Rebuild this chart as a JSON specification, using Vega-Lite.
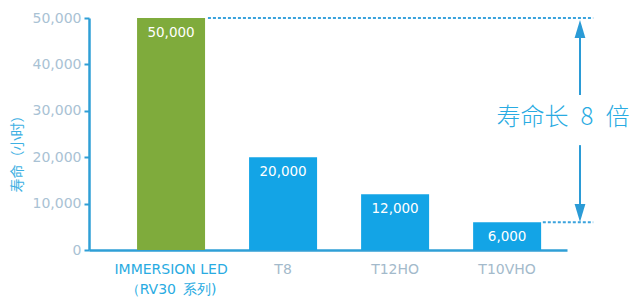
{
  "$schema": "https://vega.github.io/schema/vega-lite/v6.json",
  "autosize": {"type": "none"},
  "padding": {"left": 89, "top": 18, "right": 65, "bottom": 49},
  "width": 478,
  "height": 232,
  "background": "white",
  "config": {"view": {"stroke": null}, "font": "DejaVu Sans"},
  "datasets": {
    "bars": [
      {"name": "IMMERSION LED", "hours": 50000},
      {"name": "T8", "hours": 20000},
      {"name": "T12HO", "hours": 12000},
      {"name": "T10VHO", "hours": 6000}
    ],
    "ratio": [
      {"high": 50000, "low": 6000, "label": "寿命长\u20028\u2002倍"}
    ]
  },
  "layer": [
    {
      "data": {"name": "bars"},
      "encoding": {
        "x": {
          "field": "name", "type": "nominal", "sort": null,
          "scale": {"paddingInner": 0.393, "paddingOuter": 0.33, "align": 0.65},
          "axis": {
            "title": null, "labelAngle": 0, "ticks": false,
            "domainColor": "#2f9fd6", "domainWidth": 2.5,
            "labelPadding": 12, "labelFontSize": 14, "labelLineHeight": 20,
            "labelFont": "DejaVu Sans",
            "labelExpr": "datum.value == 'IMMERSION LED' ? ['IMMERSION LED', '（RV30\u2002系列)'] : datum.label",
            "labelColor": {"condition": {"test": "datum.value == 'IMMERSION LED'", "value": "#29abe2"}, "value": "#a3bacb"}
          }
        },
        "y": {
          "field": "hours", "type": "quantitative",
          "scale": {"domain": [0, 50000], "nice": false},
          "axis": {
            "title": "寿命（小时）", "titleColor": "#3db0e3", "titleFont": "Noto Sans CJK SC",
            "titleFontSize": 14, "titleFontWeight": "normal", "titleX": -72, "titleY": 132,
            "titleBaseline": "middle", "titleAngle": -90,
            "values": [0, 10000, 20000, 30000, 40000, 50000],
            "labelExpr": "format(datum.value, ',')",
            "grid": false, "domainColor": "#2f9fd6", "domainWidth": 2.5,
            "tickColor": "#2f9fd6", "tickSize": 5, "tickWidth": 2,
            "labelColor": "#a9c2d4", "labelFontSize": 14, "labelPadding": 3
          }
        }
      },
      "layer": [
        {
          "mark": {"type": "bar"},
          "encoding": {
            "color": {
              "field": "name", "type": "nominal", "legend": null,
              "scale": {"domain": ["IMMERSION LED", "T8", "T12HO", "T10VHO"], "range": ["#7fab3c", "#13a4e6", "#13a4e6", "#13a4e6"]}
            }
          }
        },
        {
          "mark": {"type": "text", "baseline": "top", "dy": 8, "color": "white", "fontSize": 13.5},
          "encoding": {"text": {"field": "hours", "type": "quantitative", "format": ","}}
        }
      ]
    },
    {
      "data": {"name": "ratio"},
      "layer": [
        {
          "mark": {"type": "rule", "color": "#3aa3dd", "strokeWidth": 2, "strokeDash": [3, 2]},
          "encoding": {
            "x": {"datum": 0.33, "type": "quantitative", "scale": {"domain": [-0.732, 3.536], "nice": false, "zero": false}, "axis": null},
            "x2": {"datum": 3.77},
            "y": {"field": "high", "type": "quantitative"}
          }
        },
        {
          "mark": {"type": "rule", "color": "#3aa3dd", "strokeWidth": 2, "strokeDash": [3, 2]},
          "encoding": {
            "x": {"datum": 3.32, "type": "quantitative"},
            "x2": {"datum": 3.77},
            "y": {"field": "low", "type": "quantitative"}
          }
        },
        {
          "mark": {"type": "rule", "color": "#2b9bd6", "strokeWidth": 2},
          "encoding": {
            "x": {"datum": 3.652, "type": "quantitative"},
            "y": {"datum": 47000, "type": "quantitative"},
            "y2": {"datum": 33400}
          }
        },
        {
          "mark": {"type": "rule", "color": "#2b9bd6", "strokeWidth": 2},
          "encoding": {
            "x": {"datum": 3.652, "type": "quantitative"},
            "y": {"datum": 22600, "type": "quantitative"},
            "y2": {"datum": 8600}
          }
        },
        {
          "mark": {"type": "point", "filled": true, "color": "#2b9bd6", "opacity": 1, "size": 324, "shape": "M0,-1L0.6,1L-0.6,1Z"},
          "encoding": {
            "x": {"datum": 3.652, "type": "quantitative"},
            "y": {"datum": 47629, "type": "quantitative"}
          }
        },
        {
          "mark": {"type": "point", "filled": true, "color": "#2b9bd6", "opacity": 1, "size": 324, "shape": "M0,1L0.6,-1L-0.6,-1Z"},
          "encoding": {
            "x": {"datum": 3.652, "type": "quantitative"},
            "y": {"datum": 7974, "type": "quantitative"}
          }
        },
        {
          "mark": {"type": "text", "font": "Noto Sans CJK SC", "fontSize": 24, "fontWeight": 300, "color": "#29abe2", "align": "center", "baseline": "middle"},
          "encoding": {
            "x": {"datum": 3.5, "type": "quantitative"},
            "y": {"datum": 28450, "type": "quantitative"},
            "text": {"field": "label"}
          }
        }
      ]
    }
  ],
  "resolve": {"scale": {"x": "independent"}}
}
